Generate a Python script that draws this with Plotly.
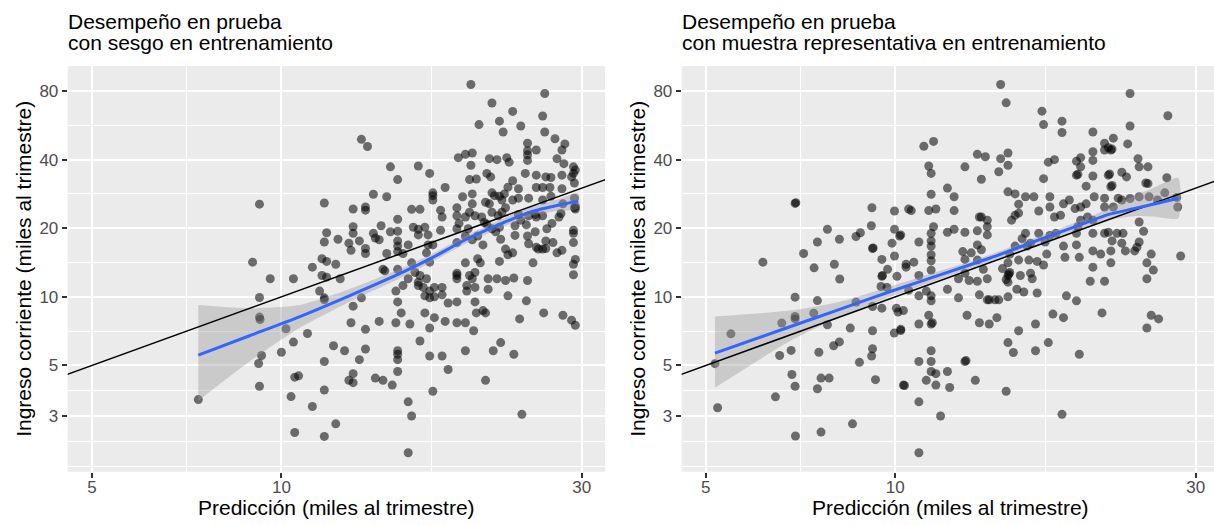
import plotly.graph_objects as go

FONT = "Liberation Sans, Arial, sans-serif"

# ---------------- data ----------------
# Left panel: test performance, model trained with biased sample
left_points = [
    (9.23, 25.5), (9.0, 14.2), (9.6, 12.0), (10.45, 12.0), (9.23, 9.93), (9.23, 8.15), (9.25, 7.95),
    (10.17, 7.24), (10.45, 6.33), (10.0, 5.71), (9.3, 5.53), (9.2, 5.1), (10.5, 4.44), (10.65, 4.5),
    (9.23, 4.05), (10.36, 3.65), (7.38, 3.54), (10.5, 2.54),
    (20.0, 85.5), (26.2, 78), (21.6, 70.9), (23.3, 65.1), (26.0, 62.2), (20.6, 57.0), (22.2, 59),
    (22.5, 52.9), (24.0, 56.2), (26.2, 52.9), (27.2, 49.4), (28.2, 46.9), (13.4, 49.1), (13.7, 45.7),
    (24.6, 47.2), (24.6, 43.8), (25.4, 44.1), (27.9, 44.1), (24.6, 42), (19.1, 40.8), (19.6, 42.2),
    (20.1, 42.8), (21.4, 40.4), (22.0, 40.0), (22.8, 40.8), (23.0, 39.0), (24.6, 39.7), (24.4, 34.8),
    (25.4, 34.2), (27.4, 40.4), (28.1, 38.4), (29.1, 37.2), (29.1, 34.8), (27.9, 34.2), (26.3, 33.6),
    (26.8, 33.4), (28.9, 33.6), (29.2, 31.6), (29.3, 36), (14.9, 37.2), (15.3, 32.7), (16.5, 37.5),
    (17.2, 34.8), (17.4, 28.6), (17.4, 27.8), (18.2, 30.2), (20.0, 37.8), (19.9, 32.7), (20.4, 32.9),
    (21.2, 34.8), (21.5, 33.6), (22.9, 30.3), (23.3, 32.3), (23.8, 29.8), (21.6, 28.6), (21.8, 27.8),
    (22.2, 27.6), (22.4, 26.6), (22.6, 28.3), (19.4, 27.5), (20.1, 28.3), (20.1, 25.6), (21.1, 26.0),
    (21.4, 25.6), (23.3, 26.6), (23.8, 27.1), (24.7, 27.1), (25.4, 30.2), (26.0, 30.2), (26.7, 30.2),
    (26.0, 26.6), (26.8, 27.6), (27.9, 29.8), (28.0, 25.6), (29.2, 27.1), (29.3, 25.0), (29.3, 24.3),
    (11.7, 25.8), (13.0, 24.3), (13.6, 24.8), (13.6, 24.0), (14.0, 28.2), (14.7, 27.5), (15.3, 21.9),
    (16.1, 24.2), (16.6, 24.2), (17.4, 26.6), (17.9, 24.0), (18.0, 22.4), (19.0, 24.6), (19.0, 22.7),
    (19.6, 22.4), (19.15, 21.0), (19.9, 23.5), (20.3, 22.7), (20.8, 22.4), (21.0, 21.2), (21.6, 23.5),
    (22.1, 22.7), (22.4, 23.5), (22.7, 24.6), (23.8, 23.0), (24.7, 22.7), (25.3, 23.0), (25.4, 22.4),
    (26.0, 22.7), (26.9, 21.0), (27.6, 22.4), (27.8, 23.2), (29.2, 24.6),
    (11.8, 19.1), (11.7, 17.4), (12.3, 17.9), (12.8, 17.2), (13.0, 20.3), (13.0, 19.0), (12.9, 16.0),
    (13.3, 17.6), (13.6, 16.3), (13.6, 15.5), (14.0, 19.0), (14.1, 18.1), (14.3, 17.8), (14.4, 20.5),
    (14.7, 15.5), (14.9, 19.3), (15.3, 15.8), (15.3, 19.4), (15.3, 17.6), (15.3, 16.7), (15.6, 15.5),
    (15.9, 16.9), (16.2, 20.2), (16.5, 19.8), (16.5, 18.7), (16.9, 20.2), (17.1, 18.7), (17.1, 16.9),
    (17.0, 15.6), (17.4, 16.9), (17.9, 19.6), (19.0, 19.9), (19.0, 17.3), (19.6, 18.5), (19.8, 19.9),
    (20.1, 17.8), (20.5, 18.5), (20.9, 16.9), (21.2, 20.8), (21.6, 19.9), (21.9, 19.3), (22.2, 20.2),
    (22.3, 17.9), (22.7, 16.2), (22.9, 15.3), (23.3, 15.6), (23.5, 20.5), (23.5, 18.6), (24.0, 21.7),
    (24.5, 20.7), (24.6, 18.5), (24.7, 17.1), (25.3, 19.3), (25.4, 16.5), (25.6, 16.2), (26.0, 16.2),
    (26.3, 17.6), (26.3, 16.3), (26.4, 19.9), (27.0, 17.3), (27.4, 15.6), (27.9, 16.0), (29.1, 19.0),
    (29.1, 17.3), (29.1, 19.6), (29.3, 14.6), (29.1, 13.9), (29.1, 12.5),
    (11.2, 13.5), (11.6, 12.4), (11.8, 12.2), (11.6, 14.7), (11.8, 14.3), (12.2, 13.9), (11.5, 10.6),
    (11.7, 9.9), (11.7, 9.7), (12.4, 12.0), (13.0, 9.1), (13.4, 9.9), (14.5, 13.2), (14.6, 13.0),
    (15.3, 13.2), (15.2, 10.6), (15.3, 9.5), (15.6, 11.2), (15.9, 12.0), (16.1, 14.1), (16.3, 12.8),
    (16.5, 11.2), (16.5, 11.6), (16.6, 12.4), (16.8, 11.0), (16.9, 10.1), (17.0, 12.0), (17.2, 14.2),
    (17.2, 10.6), (17.2, 9.9), (17.5, 11.0), (17.5, 10.0), (18.0, 10.2), (18.0, 11.0), (19.0, 12.4),
    (19.0, 12.7), (19.0, 12.0), (18.4, 9.4), (19.0, 9.5), (19.7, 10.6), (19.7, 11.2), (19.6, 14.1),
    (19.9, 12.4), (20.1, 12.0), (20.3, 12.8), (20.3, 11.0), (20.3, 9.5), (20.4, 8.5), (20.5, 14.7),
    (20.9, 8.7), (20.7, 14.1), (21.3, 12.0), (21.3, 10.8), (22.0, 12.0), (22.2, 14.3), (22.7, 11.8),
    (22.9, 10.1), (23.4, 12.1), (23.9, 8.0), (24.6, 11.8), (24.5, 9.6), (25.1, 14.1), (26.1, 8.5),
    (28.0, 8.3), (28.9, 7.9), (29.3, 7.5),
    (11.0, 6.9), (11.7, 5.2), (12.1, 6.1), (12.6, 5.8), (12.9, 7.7), (13.6, 7.2), (13.6, 5.9),
    (13.3, 5.3), (14.3, 7.8), (15.2, 7.7), (15.5, 8.5), (16.0, 7.6), (16.6, 6.4), (16.9, 8.5),
    (17.2, 7.3), (17.2, 5.5), (17.5, 8.1), (18.0, 5.5), (18.2, 7.8), (18.4, 4.8), (19.0, 7.7),
    (19.6, 7.7), (19.6, 5.8), (20.2, 7.1), (21.1, 8.5), (21.7, 5.8), (22.3, 6.3), (23.4, 5.6),
    (12.8, 4.3), (13.0, 4.6), (13.0, 4.2), (14.1, 4.4), (14.5, 4.3), (15.0, 4.1), (15.3, 4.7),
    (15.3, 5.3), (15.3, 5.8), (15.3, 5.6), (11.7, 3.9), (11.2, 3.3), (12.2, 2.77), (11.7, 2.44),
    (15.9, 3.46), (16.1, 3.0), (17.4, 3.85), (21.1, 4.3), (24.1, 3.05), (15.9, 2.07),
]

# Right panel: test performance, model trained with representative sample
right_points = [
    (6.16, 14.2), (5.48, 6.88), (5.17, 5.09), (5.22, 3.26), (6.93, 25.7), (6.95, 25.9), (6.93, 9.97),
    (6.93, 8.2), (6.93, 8.0), (6.60, 7.67), (6.55, 5.53), (6.83, 5.82), (6.85, 4.56), (6.93, 4.05),
    (6.45, 3.64), (6.94, 2.45), (7.15, 15.5), (7.43, 13.4), (7.52, 17.4), (7.80, 19.8), (8.0, 13.9),
    (8.15, 17.9), (8.16, 11.98), (7.42, 8.48), (7.52, 9.63), (7.8, 7.54), (7.56, 5.71), (7.62, 4.4),
    (7.85, 4.4), (7.52, 3.95), (7.62, 2.55), (7.98, 6.1), (8.15, 6.34), (8.48, 7.29), (8.55, 2.77),
    (8.77, 5.16), (8.66, 18.4), (8.8, 19.1), (9.18, 24.6), (9.16, 20.5), (9.2, 16.3), (9.22, 16.4),
    (9.52, 14.6), (9.72, 13.2), (9.52, 12.3), (9.54, 12.4), (9.49, 11.1), (9.7, 11.0), (9.2, 9.07),
    (9.52, 8.92), (8.66, 9.48), (9.2, 7.1), (9.2, 5.92), (9.17, 5.5), (9.3, 4.33), (9.97, 23.8),
    (9.97, 19.8), (10.16, 18.5), (9.88, 17.2), (9.97, 15.1), (10.06, 12.3), (10.04, 8.92), (10.1, 8.57),
    (9.96, 6.93), (10.2, 7.12), (10.34, 4.08), (10.5, 24.3), (10.4, 13.9),
    (14.7, 85.5), (15.0, 71), (23.6, 78), (27.1, 62.3), (17.1, 65.3), (17.2, 57), (18.4, 59),
    (18.4, 52.6), (20.6, 52.9), (23.6, 56.2), (22.2, 49.7), (21.5, 47.2), (23.4, 46.9), (21.8, 45.1),
    (22.0, 44.1), (22.1, 44.5), (22.0, 30.4), (22.1, 30.8), (21.8, 34.2), (21.9, 34.6), (11.1, 45.8),
    (11.5, 48.1), (11.3, 37.5), (11.4, 34.8), (13.5, 42.2), (13.9, 41.2), (12.9, 37.2), (13.7, 32.8),
    (14.6, 35.4), (14.7, 40.4), (15.1, 42.8), (15.1, 37.8), (17.5, 39.0), (17.9, 40.0), (17.2, 33.0),
    (19.4, 39.4), (19.7, 40.8), (19.4, 34.2), (19.5, 34.5), (19.7, 37.2), (20.6, 43.3), (20.6, 39.7),
    (20.6, 33.9), (20.1, 30.6), (21.5, 44.1), (22.9, 35.2), (23.3, 33.6), (24.3, 40.4), (24.4, 37.2),
    (25.2, 37.2), (25.0, 31.6), (25.2, 31.4), (27.0, 33.3), (28.0, 27.3), (28.1, 24.8), (28.4, 15.1),
    (24.4, 27.5), (25.3, 27.5), (26.1, 26.6), (26.8, 28.6), (23.6, 27.0), (22.9, 26.6), (22.6, 27.1),
    (22.2, 24.8), (21.5, 24.8), (21.5, 27.1), (20.7, 27.5), (20.1, 25.6), (19.7, 24.8), (19.3, 24.4),
    (18.9, 26.6), (18.5, 25.6), (18.3, 22.8), (17.9, 22.4), (17.6, 27.5), (17.6, 24.8), (16.9, 23.8),
    (16.6, 27.5), (16.1, 27.5), (15.7, 25.5), (15.5, 22.8), (15.7, 23.3), (15.3, 21.7), (15.1, 28.9),
    (15.5, 28.3), (13.7, 22.4), (13.6, 22.4), (14.0, 21.7), (12.4, 27.5), (12.4, 23.9), (12.1, 30.0),
    (11.4, 28.2), (11.3, 23.9), (11.6, 24.3), (10.6, 23.9), (11.5, 20.3), (11.4, 19.0), (11.4, 17.6),
    (11.4, 16.7), (11.4, 15.3), (11.4, 14.4), (11.4, 13.1), (12.1, 19.2), (12.4, 19.8), (12.9, 19.2),
    (12.8, 15.8), (12.9, 14.6), (13.2, 15.6), (13.5, 19.5), (13.5, 16.9), (13.7, 16.1), (14.0, 20.3),
    (14.0, 18.7), (13.5, 14.5), (13.8, 13.2), (14.0, 12.0), (13.5, 11.7), (13.1, 11.8), (12.9, 12.7),
    (12.6, 12.0), (12.1, 10.8), (11.4, 10.1), (11.4, 9.6), (10.9, 10.1), (10.5, 10.7), (10.9, 12.4),
    (10.4, 13.5), (10.7, 14.2), (10.2, 18.7), (10.9, 17.4), (11.2, 10.6), (12.6, 9.9), (13.0, 8.3),
    (13.6, 10.2), (14.0, 9.7), (14.1, 9.7), (14.4, 9.7), (14.6, 9.7), (15.1, 10.0), (15.1, 11.6),
    (15.1, 12.4), (15.15, 12.6), (15.1, 14.1), (15.2, 15.4), (15.5, 16.7), (15.7, 14.5), (15.8, 12.4),
    (15.6, 10.8), (16.0, 10.5), (16.3, 14.5), (16.4, 12.7), (16.8, 14.3), (17.2, 13.8), (16.5, 12.0),
    (16.8, 10.4), (15.9, 18.0), (16.1, 19.0), (16.2, 16.7), (16.4, 17.2), (16.9, 19.0), (17.3, 17.4),
    (17.4, 15.4), (17.6, 18.6), (18.0, 19.0), (18.5, 16.7), (18.6, 14.9), (19.4, 16.9), (19.6, 14.9),
    (19.4, 19.0), (19.5, 20.3), (19.7, 21.7), (20.2, 22.4), (20.6, 21.7), (20.6, 19.0), (20.6, 15.9),
    (20.6, 13.5), (21.2, 15.4), (21.5, 19.0), (21.8, 19.2), (22.0, 15.9), (22.0, 14.1), (22.1, 17.6),
    (22.5, 19.0), (22.9, 17.2), (23.0, 19.0), (23.2, 15.9), (24.0, 15.9), (24.2, 16.5), (24.4, 21.3),
    (24.4, 17.4), (24.8, 19.4), (25.5, 15.4), (25.1, 14.1), (25.7, 13.1), (25.1, 12.0), (20.4, 11.7),
    (21.5, 11.7), (18.7, 10.1), (19.4, 9.6), (17.8, 8.4), (18.5, 8.1), (21.3, 8.5), (25.5, 8.3),
    (26.2, 8.0), (25.1, 7.3), (16.7, 7.6), (15.7, 7.1), (15.1, 6.3), (15.4, 5.7), (16.7, 5.8),
    (17.5, 6.3), (19.6, 5.6), (13.6, 7.7), (14.1, 7.6), (14.5, 8.1), (13.4, 4.3), (12.9, 5.2),
    (12.95, 5.25), (15.0, 3.85), (18.4, 3.05), (11.8, 3.0), (10.9, 2.07), (10.9, 3.46), (10.9, 5.2),
    (11.4, 5.8), (11.4, 5.2), (11.4, 4.7), (11.6, 4.6), (12.1, 4.7), (11.2, 4.3), (11.6, 4.1),
    (12.2, 4.0), (10.3, 4.1), (11.4, 7.6), (11.45, 7.7), (10.9, 7.6), (11.3, 8.3), (10.2, 7.2),
    (10.3, 8.7), (15.2, 12.8), (15.0, 11.9), (14.8, 13.3),
]

# Smoothers (loess fit and its confidence band)
smooth_left_x = [7.38, 8.9, 10.68, 12.82, 15.38, 17.4, 19.6, 22.2, 24.9, 27.6, 29.6]
smooth_left_fit = [5.55, 6.75, 8.17, 10.1, 12.6, 14.9, 17.8, 20.8, 23.6, 25.3, 26.3]
smooth_left_lo = [3.5, 5.2, 7.3, 9.5, 12.0, 14.3, 17.1, 20.0, 22.6, 23.9, 24.3]
smooth_left_hi = [9.2, 8.9, 9.2, 10.8, 13.2, 15.5, 18.5, 21.7, 24.8, 26.9, 28.5]

smooth_right_x = [5.17, 6.8, 8.2, 9.82, 12.0, 14.14, 16.0, 18.04, 20.0, 21.7, 24.0, 26.0, 28.15]
smooth_right_fit = [5.66, 7.39, 8.85, 10.55, 12.7, 14.8, 16.8, 19.0, 21.06, 22.9, 24.4, 25.7, 27.1]
smooth_right_lo = [3.99, 6.4, 8.2, 10.0, 12.2, 14.3, 16.2, 18.3, 20.2, 21.7, 22.6, 22.4, 22.1]
smooth_right_hi = [8.2, 8.7, 9.55, 11.1, 13.2, 15.3, 17.4, 19.7, 22.0, 24.3, 27.8, 30.5, 33.2]

identity_line = [1, 100]

x_ticks = [5, 10, 30]
y_ticks = [3, 5, 10, 20, 40, 80]
x_minor = [7.071, 17.32]
y_minor = [1.8, 2.324, 3.873, 7.071, 14.14, 28.28, 56.57]

titles = [
    ("Desempeño en prueba", "con sesgo en entrenamiento"),
    ("Desempeño en prueba", "con muestra representativa en entrenamiento"),
]
x_title = "Predicción (miles al trimestre)"
y_title = "Ingreso corriente (miles al trimestre)"

# ---------------- figure ----------------
W, H = 1214, 525
fig = go.Figure()


def add_panel(points, sx, sfit, slo, shi, xa, ya):
    px = [p[0] for p in points]
    py = [p[1] for p in points]
    fig.add_trace(go.Scatter(
        x=px, y=py, mode="markers", xaxis=xa, yaxis=ya, hoverinfo="skip",
        marker=dict(color="rgba(0,0,0,0.55)", size=9, line=dict(width=0)), showlegend=False))
    fig.add_trace(go.Scatter(
        x=sx + sx[::-1], y=shi + slo[::-1], mode="lines", fill="toself",
        fillcolor="rgba(153,153,153,0.4)", line=dict(width=0, shape="spline", smoothing=0.6),
        xaxis=xa, yaxis=ya, hoverinfo="skip", showlegend=False))
    fig.add_trace(go.Scatter(
        x=identity_line, y=identity_line, mode="lines", line=dict(color="black", width=1.5),
        xaxis=xa, yaxis=ya, hoverinfo="skip", showlegend=False))
    fig.add_trace(go.Scatter(
        x=sx, y=sfit, mode="lines", line=dict(color="#3366FF", width=3, shape="spline", smoothing=0.6),
        xaxis=xa, yaxis=ya, hoverinfo="skip", showlegend=False))


add_panel(left_points, smooth_left_x, smooth_left_fit, smooth_left_lo, smooth_left_hi, "x", "y")
add_panel(right_points, smooth_right_x, smooth_right_fit, smooth_right_lo, smooth_right_hi, "x2", "y2")

TOP, BOTTOM = 66, 471.7
ydom = [1 - BOTTOM / H, 1 - TOP / H]
L_LEFT, L_RIGHT = 67.7, 605
R_LEFT = 681.7


def xaxis(domain, rng, anchor):
    return dict(type="log", domain=domain, range=rng, anchor=anchor,
                tickvals=x_ticks, ticktext=[str(v) for v in x_ticks],
                ticks="outside", ticklen=5, tickwidth=1.5, tickcolor="#333333",
                ticklabelstandoff=-5,
                showgrid=True, gridcolor="white", gridwidth=2,
                zeroline=False, showline=False, fixedrange=True,
                tickfont=dict(family=FONT, size=17, color="#4D4D4D"),
                minor=dict(tickvals=x_minor, showgrid=True, gridcolor="white", gridwidth=1, ticks=""))


def yaxis(anchor):
    return dict(type="log", domain=ydom, range=[0.2326, 2.013], anchor=anchor,
                tickvals=y_ticks, ticktext=[str(v) for v in y_ticks],
                ticks="outside", ticklen=5, tickwidth=1.5, tickcolor="#333333",
                showgrid=True, gridcolor="white", gridwidth=2,
                zeroline=False, showline=False, fixedrange=True,
                tickfont=dict(family=FONT, size=17, color="#4D4D4D"),
                minor=dict(tickvals=y_minor, showgrid=True, gridcolor="white", gridwidth=1, ticks=""))


annotations = []
for i, (l1, l2) in enumerate(titles):
    x0 = (L_LEFT if i == 0 else R_LEFT) - 1
    for j, txt in enumerate((l1, l2)):
        yc = 21.5 + j * 21
        annotations.append(dict(text=txt, x=x0 / W, y=1 - yc / H, xref="paper", yref="paper",
                                xanchor="left", yanchor="middle", showarrow=False, borderpad=0,
                                font=dict(family=FONT, size=21, color="black")))
for xc in ((L_LEFT + L_RIGHT) / 2, 950):
    annotations.append(dict(text=x_title, x=xc / W, y=1 - 507 / H, xref="paper", yref="paper",
                            xanchor="center", yanchor="middle", showarrow=False, borderpad=0,
                            font=dict(family=FONT, size=21, color="black")))
for xc in (24, 638):
    annotations.append(dict(text=y_title, x=xc / W, y=1 - (TOP + BOTTOM) / 2 / H, xref="paper",
                            yref="paper", xanchor="center", yanchor="middle", textangle=-90,
                            showarrow=False, borderpad=0,
                            font=dict(family=FONT, size=21, color="black")))

fig.update_layout(
    width=W, height=H, margin=dict(l=0, r=0, t=0, b=0),
    paper_bgcolor="white", plot_bgcolor="#EBEBEB",
    xaxis=xaxis([L_LEFT / W, L_RIGHT / W], [0.6606, 1.514], "y"),
    yaxis=yaxis("x"),
    xaxis2=xaxis([R_LEFT / W, 1.0], [0.6606, 1.5063], "y2"),
    yaxis2=yaxis("x2"),
    annotations=annotations,
    showlegend=False,
    font=dict(family=FONT),
)

fig.write_html("out.html")
